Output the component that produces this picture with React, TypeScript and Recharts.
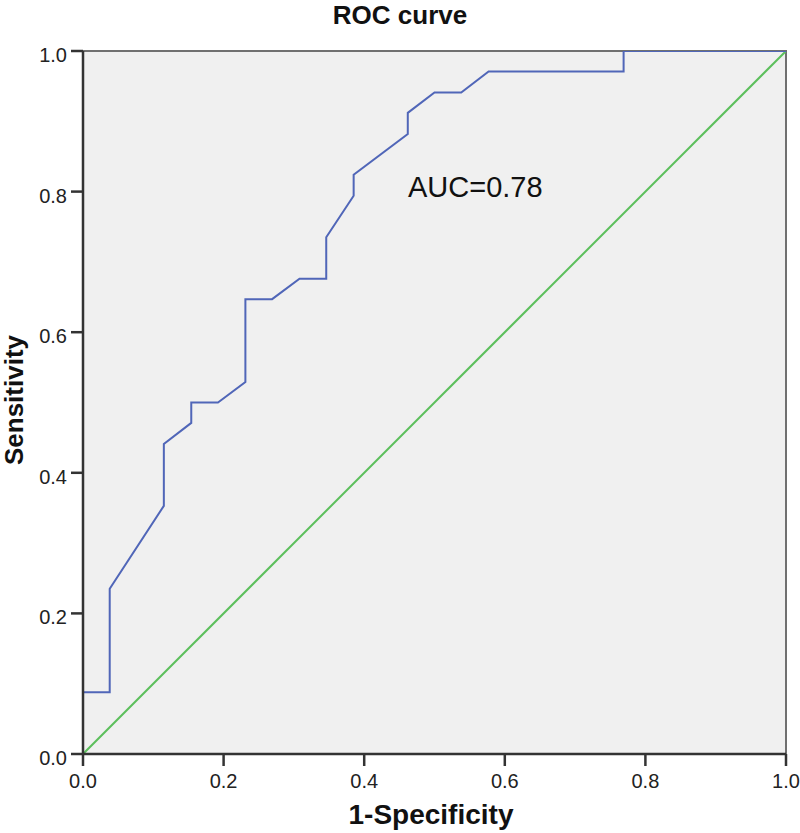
import { ComposedChart, Line, XAxis, YAxis, ReferenceArea } from "recharts"

// ROC curve points (1-specificity, sensitivity)
const fpr = [0, 0, 0.038, 0.038, 0.115, 0.115, 0.154, 0.154, 0.192, 0.231, 0.231, 0.269, 0.308, 0.346, 0.346, 0.385, 0.385, 0.462, 0.462, 0.5, 0.538, 0.577, 0.769, 0.769, 1.0]
const tpr = [0, 0.088, 0.088, 0.235, 0.353, 0.441, 0.471, 0.5, 0.5, 0.529, 0.647, 0.647, 0.676, 0.676, 0.735, 0.794, 0.824, 0.882, 0.912, 0.941, 0.941, 0.971, 0.971, 1.0, 1.0]
const refX = [0, 1]
const refY = [0, 1]
const ticks = [0, 0.2, 0.4, 0.6, 0.8, 1.0]

const roc = fpr.map((x, i) => ({ x, y: tpr[i] }))
const diag = refX.map((x, i) => ({ x, y: refY[i] }))

const font = "'Liberation Sans', Arial, sans-serif"

const XTick = (props: any) => {
  const { x, y, payload } = props
  return (
    <text x={x} y={y} dy={20} textAnchor="middle" fontSize={20} fontFamily={font} fill="#222">
      {Number(payload.value).toFixed(1)}
    </text>
  )
}

const YTick = (props: any) => {
  const { x, y, payload } = props
  return (
    <text x={x} y={y} dy={11} textAnchor="end" fontSize={20} fontFamily={font} fill="#222">
      {Number(payload.value).toFixed(1)}
    </text>
  )
}

export default function App() {
  return (
    <div style={{ position: "absolute", left: 0, top: 0, width: 800, height: 833, background: "#fff", fontFamily: font, color: "#111" }}>
      <div style={{ position: "absolute", top: 0, left: 200, width: 400, textAlign: "center", fontWeight: "bold", fontSize: 26, lineHeight: "30px" }}>
        ROC curve
      </div>
      <ComposedChart width={800} height={833} margin={{ top: 51, right: 14, bottom: 49, left: 33 }}>
        <ReferenceArea x1={0} x2={1} y1={0} y2={1} fill="#f0f0f0" fillOpacity={1} stroke="#707070" strokeWidth={2} />
        <XAxis
          type="number"
          dataKey="x"
          domain={[0, 1]}
          ticks={ticks}
          allowDataOverflow
          height={30}
          stroke="#333"
          strokeWidth={2.5}
          tickSize={12}
          tickMargin={2}
          tick={<XTick />}
        />
        <YAxis
          type="number"
          dataKey="y"
          domain={[0, 1]}
          ticks={ticks}
          allowDataOverflow
          width={50}
          stroke="#333"
          strokeWidth={2.5}
          tickSize={12}
          tickMargin={4}
          tick={<YTick />}
        />
        <Line data={diag} dataKey="y" type="linear" stroke="#5cbf5c" strokeWidth={2} dot={false} isAnimationActive={false} />
        <Line data={roc} dataKey="y" type="linear" stroke="#5066b8" strokeWidth={2} dot={false} isAnimationActive={false} />
      </ComposedChart>
      <div style={{ position: "absolute", left: 408, top: 173, fontSize: 29, lineHeight: "29px" }}>AUC=0.78</div>
      <div style={{ position: "absolute", left: 231, top: 801, width: 400, textAlign: "center", fontWeight: "bold", fontSize: 28, lineHeight: "28px" }}>
        1-Specificity
      </div>
      <div style={{ position: "absolute", left: -136, top: 385, width: 300, height: 30, textAlign: "center", fontWeight: "bold", fontSize: 26, lineHeight: "30px", transform: "rotate(-90deg)" }}>
        Sensitivity
      </div>
    </div>
  )
}
